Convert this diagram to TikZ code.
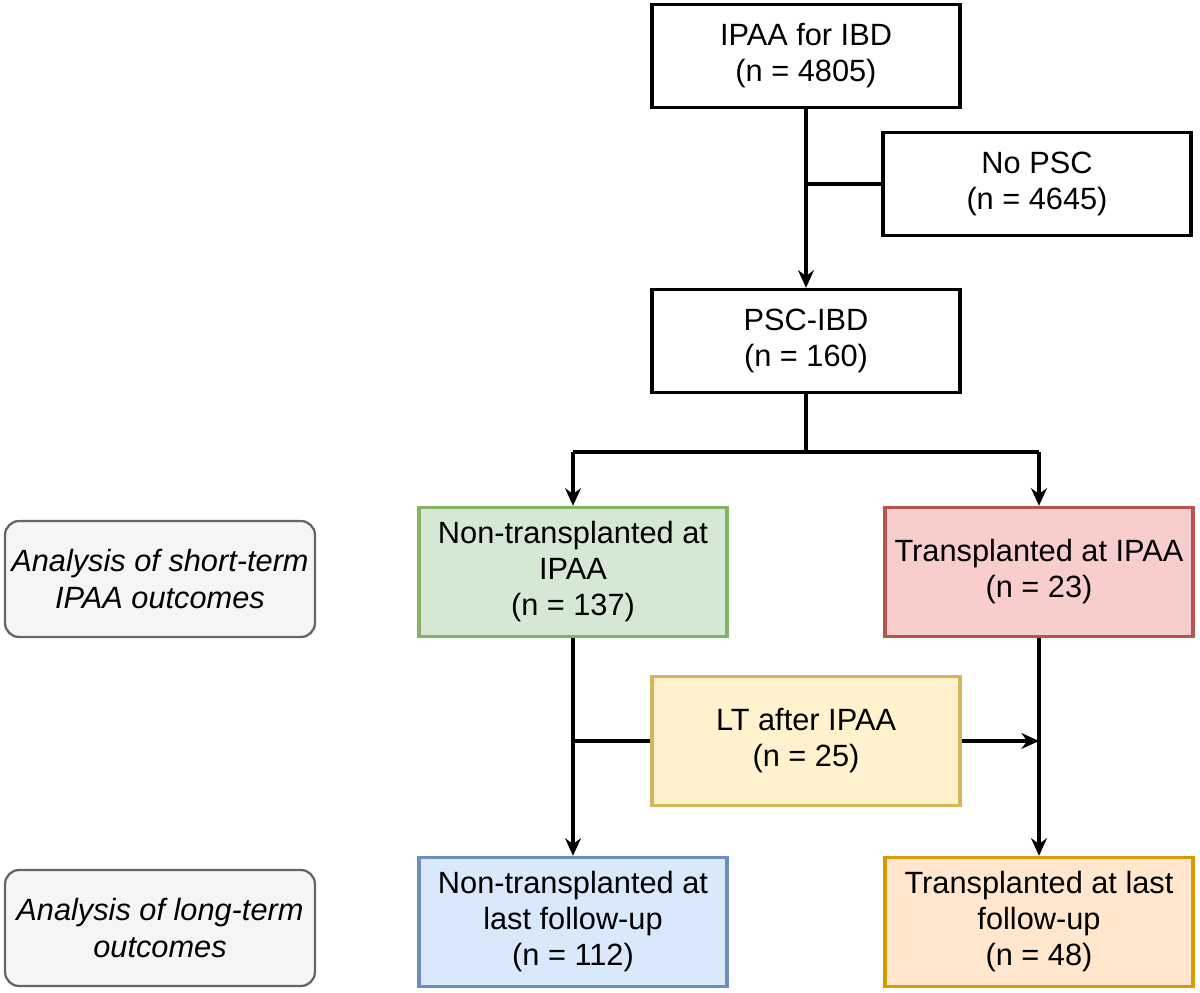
\documentclass[tikz,border=0pt]{standalone}
\usepackage{fontspec}
\setmainfont{Liberation Sans}
\usetikzlibrary{positioning,arrows.meta}
\definecolor{grnF}{HTML}{D5E8D4}\definecolor{grnD}{HTML}{82B366}
\definecolor{redF}{HTML}{F8CECC}\definecolor{redD}{HTML}{B85450}
\definecolor{yelF}{HTML}{FFF2CC}\definecolor{yelD}{HTML}{D6B656}
\definecolor{bluF}{HTML}{DAE8FC}\definecolor{bluD}{HTML}{6C8EBF}
\definecolor{orgF}{HTML}{FFE6CC}\definecolor{orgD}{HTML}{D79B00}
\definecolor{gryF}{HTML}{F5F5F5}\definecolor{gryD}{HTML}{666666}
\begin{document}
\begin{tikzpicture}[x=0.02cm,y=-0.02cm,
  box/.style={draw, line width=1.9pt, minimum width=6.16cm, minimum height=2.06cm, inner sep=1pt, align=center, font=\fontsize{17.5}{20.5}\selectfont},
  cbox/.style={box, minimum height=2.58cm},
  note/.style={draw=gryD, fill=gryF, line width=1.3pt, rounded corners=8pt, minimum width=6.2cm, minimum height=2.32cm, inner sep=1pt, align=center, font=\fontsize{17.5}{20.5}\selectfont\itshape},
  arr/.style={line width=1.9pt, -{Stealth[length=10pt,width=9pt]}},
  ln/.style={line width=1.9pt}]
\useasboundingbox (0,0) rectangle (1200,993);

\node[box] (ibd) at (806,56) {IPAA for IBD\\(n = 4805)};
\node[box] (nopsc) at (1037,184) {No PSC\\(n = 4645)};
\node[box] (psc) at (806,341) {PSC-IBD\\(n = 160)};
\node[cbox, draw=grnD, fill=grnF] (ntI) at (573,572) {Non-transplanted at\\IPAA\\(n = 137)};
\node[cbox, draw=redD, fill=redF] (tI) at (1039,572) {Transplanted at IPAA\\(n = 23)};
\node[cbox, draw=yelD, fill=yelF] (lt) at (806,741) {LT after IPAA\\(n = 25)};
\node[cbox, draw=bluD, fill=bluF] (ntL) at (573,922) {Non-transplanted at\\last follow-up\\(n = 112)};
\node[cbox, draw=orgD, fill=orgF] (tL) at (1039,922) {Transplanted at last\\follow-up\\(n = 48)};
\node[note] (short) at (160,579) {Analysis of short-term\\IPAA outcomes};
\node[note] (long) at (160,928) {Analysis of long-term\\outcomes};

% junctions
\coordinate (jA) at (806,184);
\coordinate (jB) at (806,452);
\coordinate (jL) at (573,452);
\coordinate (jR) at (1039,452);
\coordinate (jC) at (573,741);
\coordinate (jD) at (1039,741);

\draw[arr] (ibd) -- (psc);
\draw[ln] (jA) -- (nopsc);
\draw[ln] (psc) -- (jB);
\draw[ln] (jL) -- (jR);
\draw[arr] (jL) -- (ntI);
\draw[arr] (jR) -- (tI);
\draw[arr] (ntI) -- (ntL);
\draw[arr] (tI) -- (tL);
\draw[ln] (jC) -- (lt);
\draw[arr] (lt) -- (jD);
\end{tikzpicture}
\end{document}
